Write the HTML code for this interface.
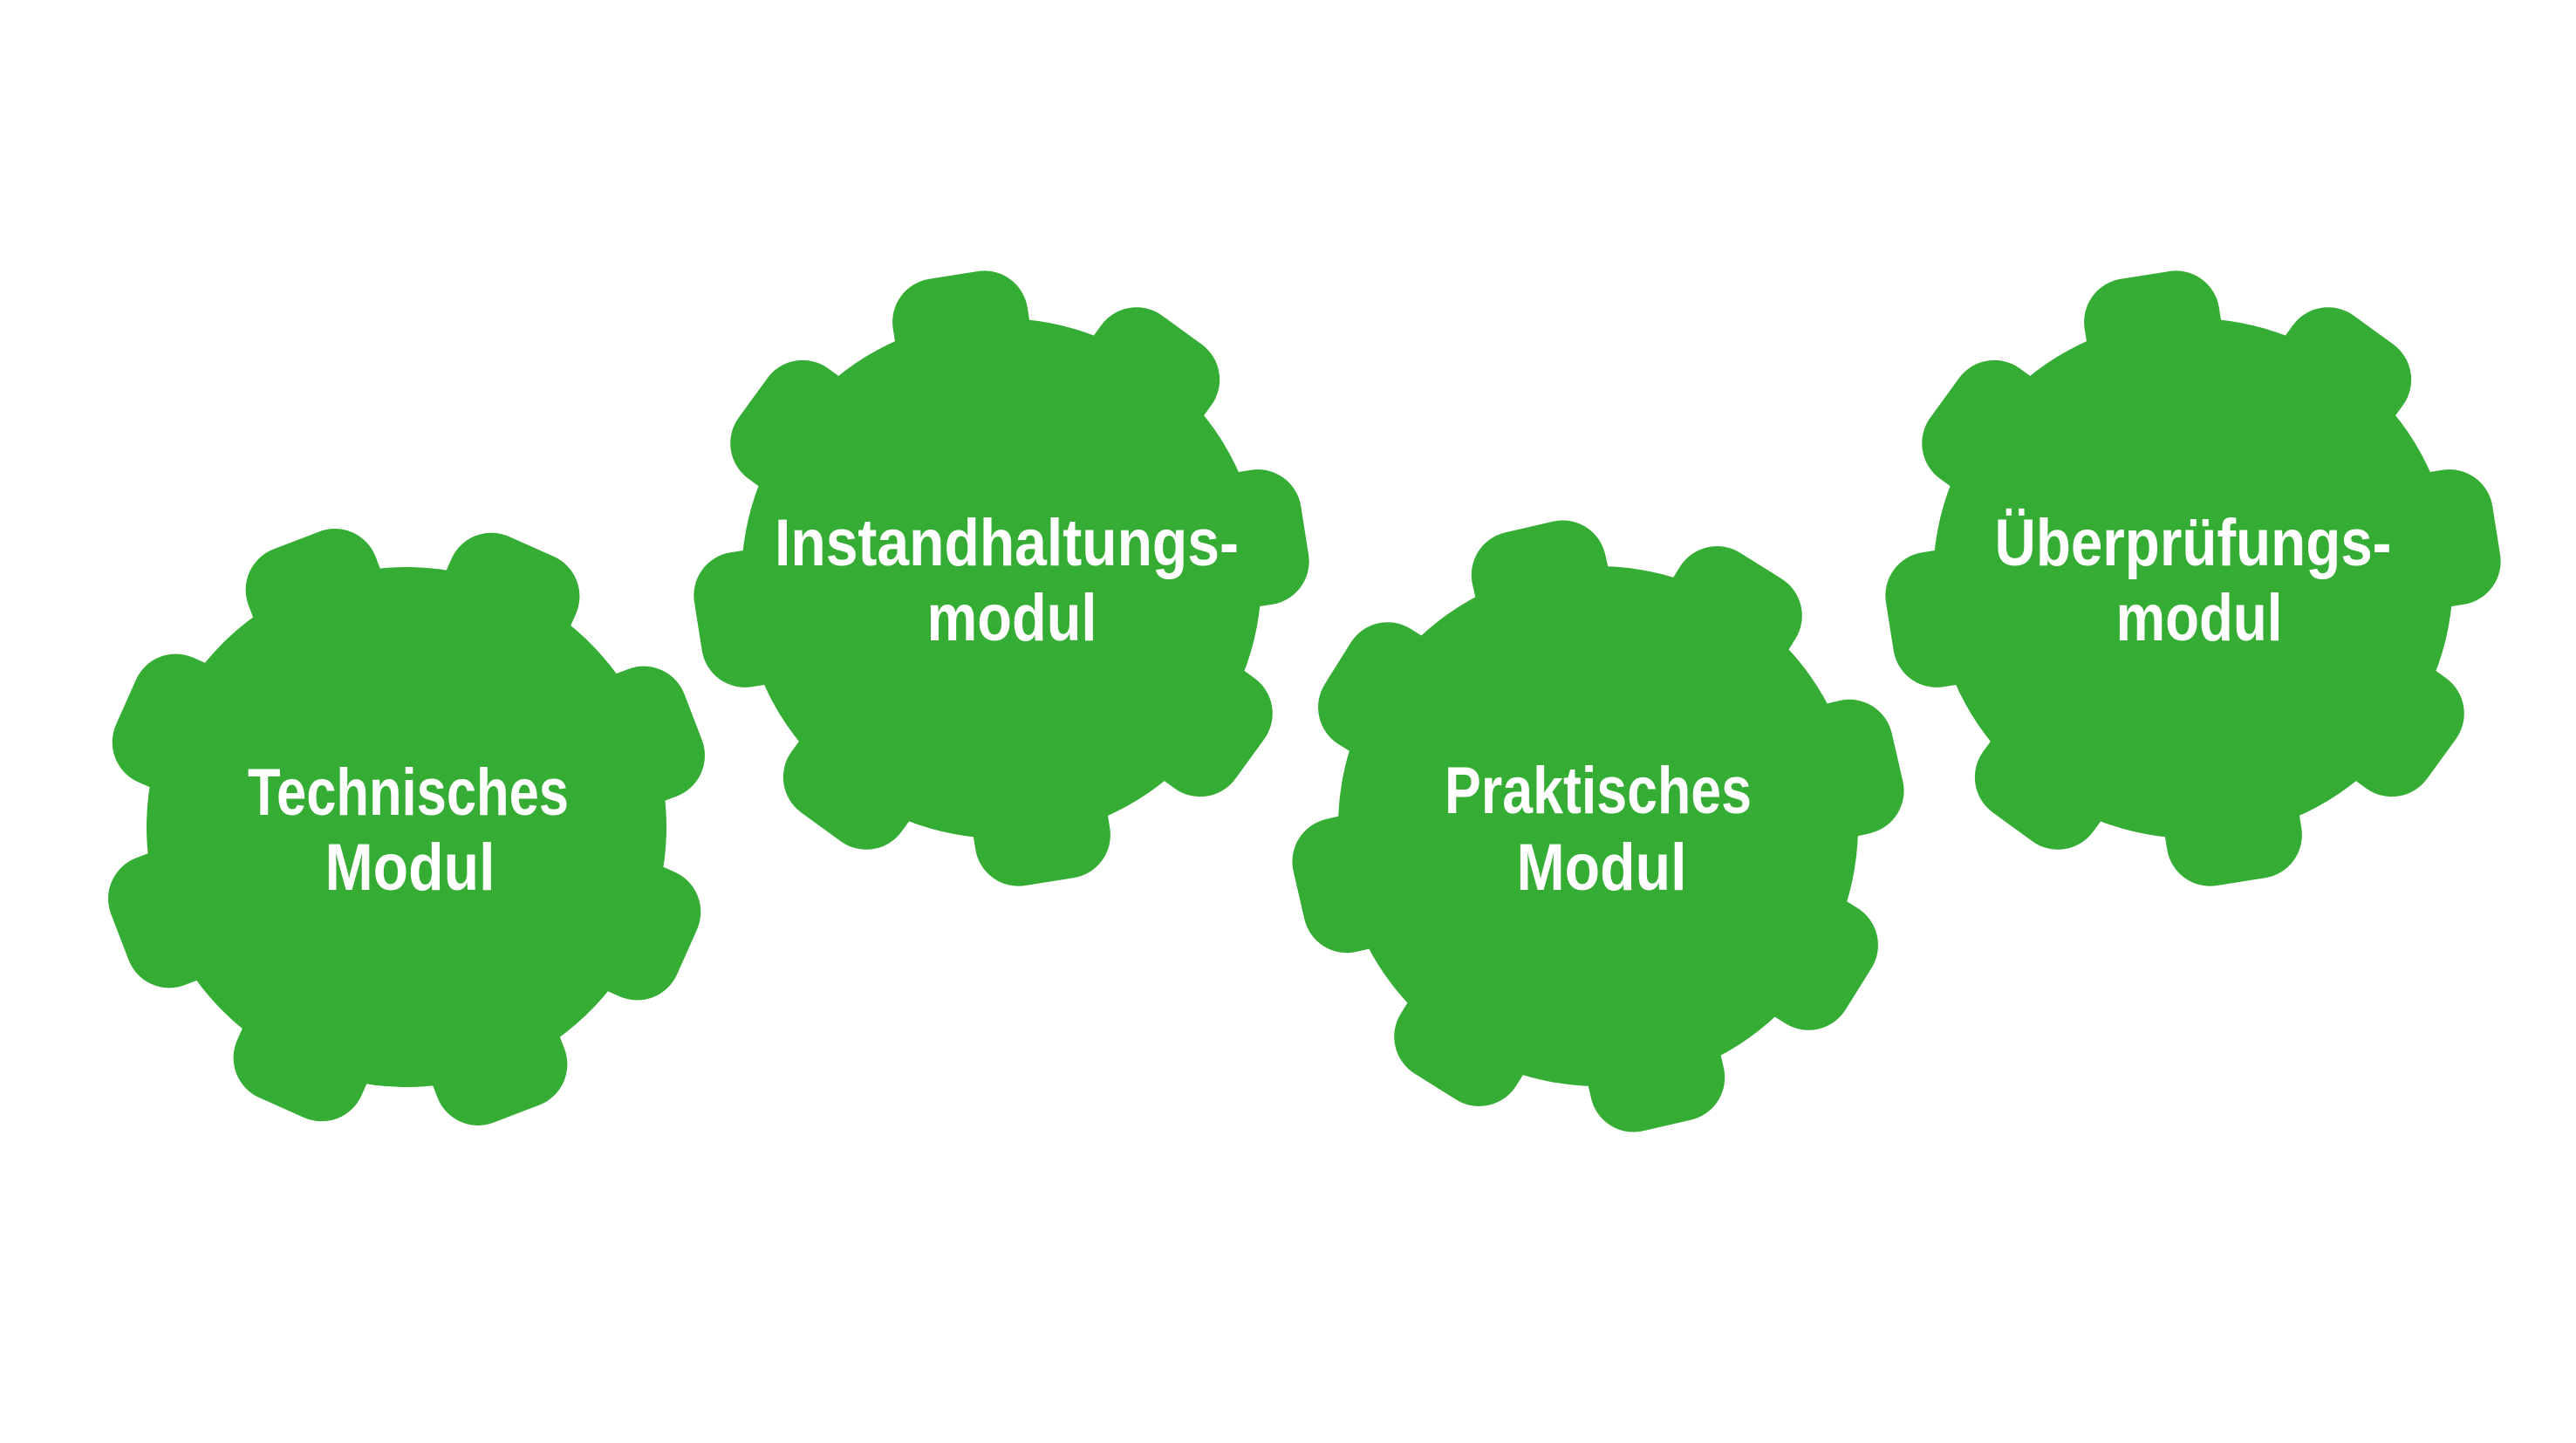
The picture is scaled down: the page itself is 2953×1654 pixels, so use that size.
<!DOCTYPE html>
<html><head><meta charset="utf-8"><style>html,body{margin:0;padding:0;background:#fff}svg{display:block}</style></head>
<body>
<svg width="2953" height="1654" viewBox="0 0 2953 1654" xmlns="http://www.w3.org/2000/svg">
<defs>
<g id="gear" fill="#35ad35">
<circle r="298"/>
<g id="t"><rect x="-78" y="-352" width="156" height="170" rx="50"/></g>
<use href="#t" transform="rotate(45)"/><use href="#t" transform="rotate(90)"/><use href="#t" transform="rotate(135)"/>
<use href="#t" transform="rotate(180)"/><use href="#t" transform="rotate(225)"/><use href="#t" transform="rotate(270)"/><use href="#t" transform="rotate(315)"/>
</g>
</defs>
<use href="#gear" transform="translate(466,948) rotate(-21)"/>
<use href="#gear" transform="translate(1148,663) rotate(-9)"/>
<use href="#gear" transform="translate(1832,947) rotate(-13)"/>
<use href="#gear" transform="translate(2514,663) rotate(-9)"/>
<g fill="#fff" font-family="Liberation Sans, sans-serif" font-weight="bold" font-size="76" text-anchor="middle">
<text x="468" y="934" textLength="368" lengthAdjust="spacingAndGlyphs">Technisches</text>
<text x="470" y="1020" textLength="195" lengthAdjust="spacingAndGlyphs">Modul</text>
<text x="1154" y="648" textLength="532" lengthAdjust="spacingAndGlyphs">Instandhaltungs-</text>
<text x="1160" y="734" textLength="195" lengthAdjust="spacingAndGlyphs">modul</text>
<text x="1832" y="932" textLength="352" lengthAdjust="spacingAndGlyphs">Praktisches</text>
<text x="1836" y="1020" textLength="195" lengthAdjust="spacingAndGlyphs">Modul</text>
<text x="2514" y="648" textLength="455" lengthAdjust="spacingAndGlyphs">Überprüfungs-</text>
<text x="2521" y="734" textLength="191" lengthAdjust="spacingAndGlyphs">modul</text>
</g>
</svg>
</body></html>
